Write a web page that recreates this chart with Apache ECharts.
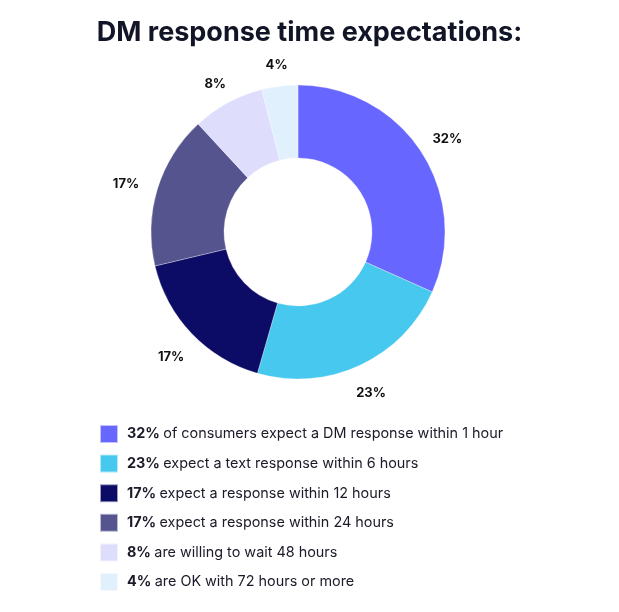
<!DOCTYPE html>
<html>
<head>
<meta charset="utf-8">
<script src="https://cdn.jsdelivr.net/npm/echarts@6/dist/echarts.min.js"></script>
<style>
html,body{margin:0;padding:0;background:#fff;}
#c{width:619px;height:612px;}
</style>
</head>
<body>
<div id="c"></div>
<script>
const titleText = 'DM response time expectations:';
const percents = [32, 23, 17, 17, 8, 4];
const descriptions = [
  'of consumers expect a DM response within 1 hour',
  'expect a text response within 6 hours',
  'expect a response within 12 hours',
  'expect a response within 24 hours',
  'are willing to wait 48 hours',
  'are OK with 72 hours or more'
];
const colors = ['#6766FF', '#47C8EE', '#0C0C66', '#55548F', '#DEDDFC', '#E1F0FD'];

const names = percents.map((p, i) => p + '% ' + descriptions[i]);
const mainData = percents.map((p, i) => ({ name: names[i], value: p, itemStyle: { color: colors[i] } }));

const CX = 298, CY = 232, LABEL_R = 166;
const total = percents.reduce((a, b) => a + b, 0);

const chart = echarts.init(document.getElementById('c'));
chart.setOption({
  backgroundColor: '#fff',
  animation: false,
  title: {
    text: titleText,
    left: 'center',
    top: 14,
    textStyle: { fontFamily: 'Inter', fontWeight: 'bold', fontSize: 27, color: '#111526' }
  },
  legend: {
    orient: 'vertical',
    left: 94,
    top: 419,
    itemWidth: 18,
    itemHeight: 18,
    itemGap: 9.6,
    icon: 'rect',
    selectedMode: false,
    data: names.map((n, i) => ({ name: n, itemStyle: { color: colors[i] } })),
    formatter: function (name) {
      const i = names.indexOf(name);
      return '{b|' + percents[i] + '%} {n|' + descriptions[i] + '}';
    },
    textStyle: {
      padding: [0, 0, 0, 4],
      rich: {
        b: { fontFamily: 'Inter', fontWeight: 'bold', fontSize: 14.4, color: '#1b1b29' },
        n: { fontFamily: 'Inter', fontSize: 14.4, color: '#1b1b29' }
      }
    }
  },
  series: [
    {
      type: 'pie',
      center: [CX, CY],
      radius: [74, 147],
      startAngle: 90,
      clockwise: true,
      silent: true,
      itemStyle: { borderColor: 'rgba(255,255,255,0.6)', borderWidth: 0.5 },
      label: {
        show: true,
        position: 'outside',
        formatter: function (p) { return percents[p.dataIndex] + '%'; },
        fontFamily: 'Inter',
        fontWeight: 'bold',
        fontSize: 13,
        color: '#111111'
      },
      labelLine: { show: false },
      labelLayout: function (params) {
        const i = params.dataIndex;
        let cum = 0;
        for (let k = 0; k < i; k++) cum += percents[k];
        const mid = (cum + percents[i] / 2) / total * 2 * Math.PI;
        const dx = Math.sin(mid), dy = -Math.cos(mid);
        const hw = params.labelRect.width / 2, hh = params.labelRect.height / 2;
        const t = Math.min(Math.abs(dx) > 1e-6 ? hw / Math.abs(dx) : 1e9, Math.abs(dy) > 1e-6 ? hh / Math.abs(dy) : 1e9);
        const d = LABEL_R + t;
        return { x: CX + dx * d, y: CY + dy * d + 4, align: 'center', verticalAlign: 'middle' };
      },
      data: mainData
    }
  ]
});
</script>
</body>
</html>
